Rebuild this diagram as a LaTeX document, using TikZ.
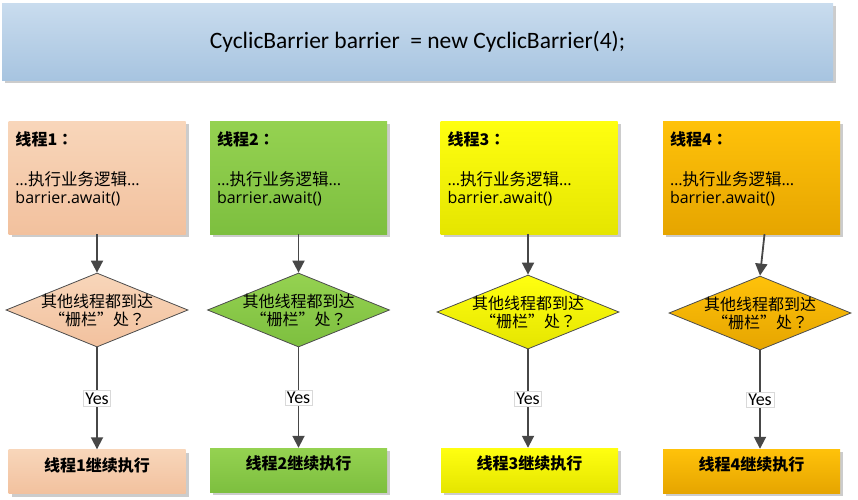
\documentclass[tikz,border=0pt]{standalone}
\usepackage{fontspec}
\setmainfont{Carlito}
\newfontfamily\cjk{Noto Sans CJK SC}
\newfontfamily\cjkp{Noto Sans CJK JP}
\newfontfamily\codefont{Open Sans}
\usetikzlibrary{shapes.geometric,shadows,arrows.meta}
\definecolor{headtop}{HTML}{C9DCEE}
\definecolor{headbot}{HTML}{A7C4E0}
\definecolor{peachtop}{HTML}{F8D6BA}
\definecolor{peachbot}{HTML}{F2C19E}
\definecolor{greentop}{HTML}{95D251}
\definecolor{greenbot}{HTML}{7DBF3F}
\definecolor{yellowtop}{HTML}{FFFF10}
\definecolor{yellowbot}{HTML}{E5E500}
\definecolor{orangetop}{HTML}{FFC20A}
\definecolor{orangebot}{HTML}{E6A500}
\begin{document}
\begin{tikzpicture}[x=1pt,y=-1pt,
    shadebox/.style={inner sep=0pt,
      drop shadow={shadow xshift=3pt,shadow yshift=-3pt,fill=black!20,opacity=1}},
    banner/.style={shadebox,top color=headtop,bottom color=headbot,
      minimum width=831pt,minimum height=77pt,font=\fontsize{23.5}{26}\selectfont},
    job/.style={shadebox,minimum width=177pt,minimum height=113pt},
    done/.style={shadebox,minimum width=177pt,minimum height=44pt,
      text height=12pt,text depth=13pt,
      font=\cjk\bfseries\fontsize{16}{18}\selectfont},
    ask/.style={diamond,draw=black!70,line width=0.8pt,
      minimum width=182pt,minimum height=74pt,inner sep=0pt},
    asktext/.style={align=center,inner sep=0pt,font=\cjk\fontsize{16}{18}\selectfont},
    note/.style={anchor=north west,align=left,inner sep=0pt,
      font=\codefont\fontsize{16}{18.5}\selectfont},
    flow/.style={draw=black!72,line width=1.8pt,-{Triangle[length=12pt,width=12pt]}},
    yes/.style={fill=white,draw=black!15,line width=0.5pt,inner sep=2pt,
      font=\fontsize{18}{18}\selectfont}]
  \useasboundingbox (0,0) rectangle (858,499);
  % head
  \node[banner] (head) at (417.5,41.5) {CyclicBarrier barrier\ \ = new CyclicBarrier(4);};
  % threads
  \node[job,top color=peachtop,bottom color=peachbot] (b1) at (97,177.5) {};
  \node[job,top color=greentop,bottom color=greenbot] (b2) at (298.5,177.5) {};
  \node[job,top color=yellowtop,bottom color=yellowbot] (b3) at (529,177.5) {};
  \node[job,top color=orangetop,bottom color=orangebot] (b4) at (751.5,177.5) {};
  \node[note] (t1) at ([shift={(7pt,-11pt)}]b1.north west)
    {{\cjk\bfseries\fontsize{16}{18}\selectfont 线程1{\cjkp：}}\\[21pt]
     …{\cjk\fontsize{16.5}{18}\selectfont 执行业务逻辑}…\\ barrier.await()};
  \node[note] (t2) at ([shift={(7pt,-11pt)}]b2.north west)
    {{\cjk\bfseries\fontsize{16}{18}\selectfont 线程2{\cjkp：}}\\[21pt]
     …{\cjk\fontsize{16.5}{18}\selectfont 执行业务逻辑}…\\ barrier.await()};
  \node[note] (t3) at ([shift={(7pt,-11pt)}]b3.north west)
    {{\cjk\bfseries\fontsize{16}{18}\selectfont 线程3{\cjkp：}}\\[21pt]
     …{\cjk\fontsize{16.5}{18}\selectfont 执行业务逻辑}…\\ barrier.await()};
  \node[note] (t4) at ([shift={(7pt,-11pt)}]b4.north west)
    {{\cjk\bfseries\fontsize{16}{18}\selectfont 线程4{\cjkp：}}\\[21pt]
     …{\cjk\fontsize{16.5}{18}\selectfont 执行业务逻辑}…\\ barrier.await()};
  % questions
  \node[ask,top color=peachtop,bottom color=peachbot] (d1) at (97,310) {};
  \node[ask,top color=greentop,bottom color=greenbot] (d2) at (298.5,310) {};
  \node[ask,top color=yellowtop,bottom color=yellowbot] (d3) at (528,312) {};
  \node[ask,top color=orangetop,bottom color=orangebot] (d4) at (760,313) {};
  \node[asktext] (q1) at (d1) {其他线程都到达\\“栅栏”处{\cjkp？}};
  \node[asktext] (q2) at (d2) {其他线程都到达\\“栅栏”处{\cjkp？}};
  \node[asktext] (q3) at (d3) {其他线程都到达\\“栅栏”处{\cjkp？}};
  \node[asktext] (q4) at (d4) {其他线程都到达\\“栅栏”处{\cjkp？}};
  % go on
  \node[done,top color=peachtop,bottom color=peachbot] (e1) at (97,471.5) {线程1继续执行};
  \node[done,top color=greentop,bottom color=greenbot] (e2) at (298.5,470) {线程2继续执行};
  \node[done,top color=yellowtop,bottom color=yellowbot] (e3) at (529.5,470) {线程3继续执行};
  \node[done,top color=orangetop,bottom color=orangebot] (e4) at (751.5,471) {线程4继续执行};
  \begin{scope}[flow]
    \draw (b1.south) to (d1.north);
    \draw (b2.south) to (d2.north);
    \draw (b3.south -| d3) to (d3.north);
    \draw ([xshift=13pt]b4.south) to (d4.north);
    \draw (d1.south) to node[yes] {Yes} (d1.south |- e1.north);
    \draw (d2.south) to node[yes] {Yes} (d2.south |- e2.north);
    \draw (d3.south) to node[yes] {Yes} (d3.south |- e3.north);
    \draw (d4.south) to node[yes] {Yes} (d4.south |- e4.north);
  \end{scope}
\end{tikzpicture}
\end{document}
